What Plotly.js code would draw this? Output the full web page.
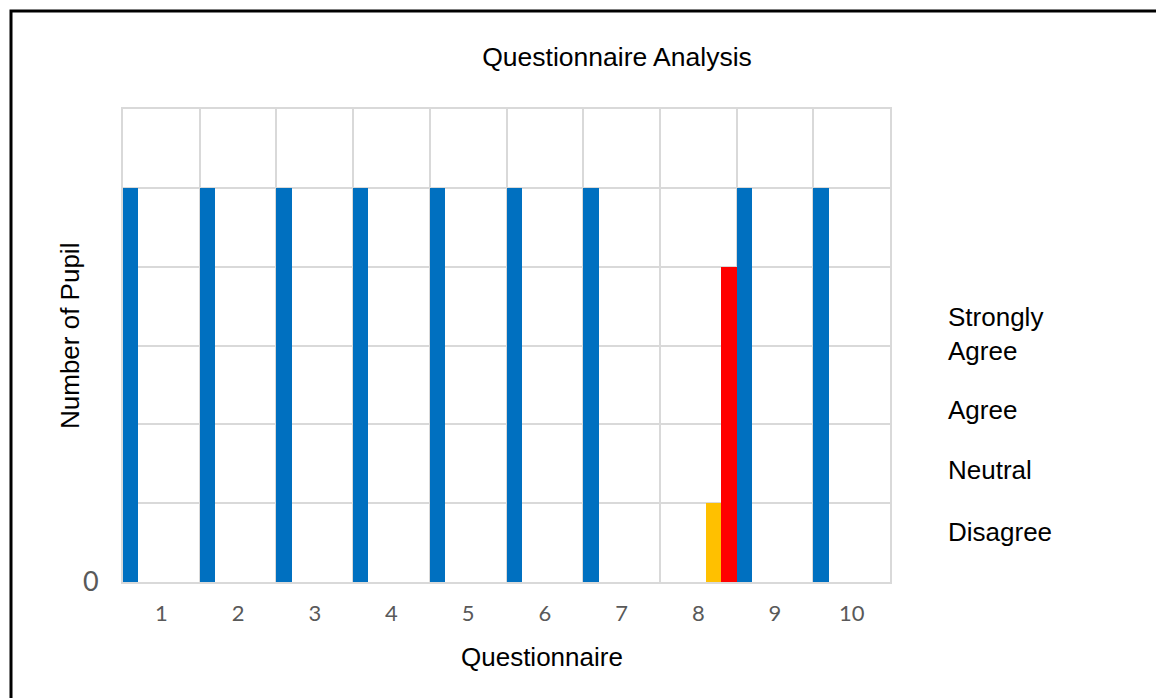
<!DOCTYPE html>
<html>
<head>
<meta charset="utf-8">
<script src="https://cdn.plot.ly/plotly-3.0.1.min.js"></script>
<style>html,body{margin:0;padding:0;background:#fff;}#chart{width:1156px;height:698px;}</style>
</head>
<body>
<div id="chart"></div>
<script>
const categories = [1, 2, 3, 4, 5, 6, 7, 8, 9, 10];
const seriesNames = ["Strongly Agree", "Agree", "Neutral", "Disagree", "Strongly Disagree"];
const stronglyAgree = [5, 5, 5, 5, 5, 5, 5, 0, 5, 5];
const agree = [0, 0, 0, 0, 0, 0, 0, 0, 0, 0];
const neutral = [0, 0, 0, 0, 0, 0, 0, 0, 0, 0];
const disagree = [0, 0, 0, 0, 0, 0, 0, 1, 0, 0];
const stronglyDisagree = [0, 0, 0, 0, 0, 0, 0, 4, 0, 0];
const yTickVals = [0, 1, 2, 3, 4, 5, 6];
const yTickText = ["0", "", "", "", "", "", ""];
const colors = ["#0070C0", "#00B050", "#A5A5A5", "#FFC000", "#FF0000"];

const seriesData = [stronglyAgree, agree, neutral, disagree, stronglyDisagree];
const traces = seriesData.map((vals, i) => ({
  type: "bar",
  name: seriesNames[i],
  x: categories,
  y: vals,
  marker: {color: colors[i], line: {width: 0}},
  hoverinfo: "x+y+name"
}));

const W = 1156, H = 698;
const L = 123, R = 890, T = 109, B = 582;
const px2x = p => (p - L) / (R - L);
const px2y = p => (B - p) / (B - T);

const legendFont = {family: "Liberation Sans, Arial, sans-serif", size: 26, color: "#000"};
const legendItems = [
  {text: "Strongly<br>Agree", y: 334},
  {text: "Agree", y: 410},
  {text: "Neutral", y: 470},
  {text: "Disagree", y: 532}
];

const annotations = legendItems.map(it => ({
  text: it.text, xref: "paper", yref: "paper",
  x: px2x(946), y: px2y(it.y), xanchor: "left", yanchor: "middle",
  align: "left", showarrow: false, font: legendFont
}));
annotations.push({
  text: "Questionnaire", xref: "paper", yref: "paper",
  x: px2x(542), y: px2y(657), xanchor: "center", yanchor: "middle",
  showarrow: false, font: legendFont
});
annotations.push({
  text: "Number of Pupil", xref: "paper", yref: "paper",
  x: px2x(70), y: px2y(336), xanchor: "center", yanchor: "middle",
  textangle: -90, showarrow: false, font: legendFont
});

const layout = {
  width: W, height: H,
  margin: {l: L, r: W - R, t: T, b: H - B, pad: 0},
  paper_bgcolor: "#fff", plot_bgcolor: "#fff",
  showlegend: false,
  barmode: "group", bargap: 0, bargroupgap: 0,
  title: {
    text: "Questionnaire Analysis",
    font: {family: "Liberation Sans, Arial, sans-serif", size: 26.5, color: "#000"},
    x: 617 / W, xref: "container", xanchor: "center",
    y: 1 - 57 / H, yref: "container", yanchor: "middle"
  },
  xaxis: {
    range: [0.5, 10.5], tickmode: "array", tickvals: categories,
    ticks: "", showgrid: false, zeroline: false,
    tickfont: {family: "Lato, Carlito, sans-serif", size: 22, color: "#595959"},
    ticklabelstandoff: 11,
    showline: true, linecolor: "#D9D9D9", linewidth: 2, mirror: true,
    minor: {showgrid: true, tick0: 0.5, dtick: 1, gridcolor: "#D9D9D9", gridwidth: 2, ticks: ""}
  },
  yaxis: {
    range: [0, 6], tickmode: "array", tickvals: yTickVals, ticktext: yTickText,
    ticks: "", showgrid: true, gridcolor: "#D9D9D9", gridwidth: 2, zeroline: false,
    tickfont: {family: "Lato, Carlito, sans-serif", size: 27, color: "#595959"},
    ticklabelstandoff: 17,
    showline: true, linecolor: "#D9D9D9", linewidth: 2, mirror: true
  },
  annotations: annotations,
  shapes: [{
    type: "rect", xref: "paper", yref: "paper", layer: "above",
    x0: px2x(11), x1: px2x(1200), y0: px2y(750), y1: px2y(11),
    line: {color: "#000", width: 3}, fillcolor: "rgba(0,0,0,0)"
  }]
};

Plotly.newPlot("chart", traces, layout, {displayModeBar: false, staticPlot: true});
</script>
</body>
</html>
